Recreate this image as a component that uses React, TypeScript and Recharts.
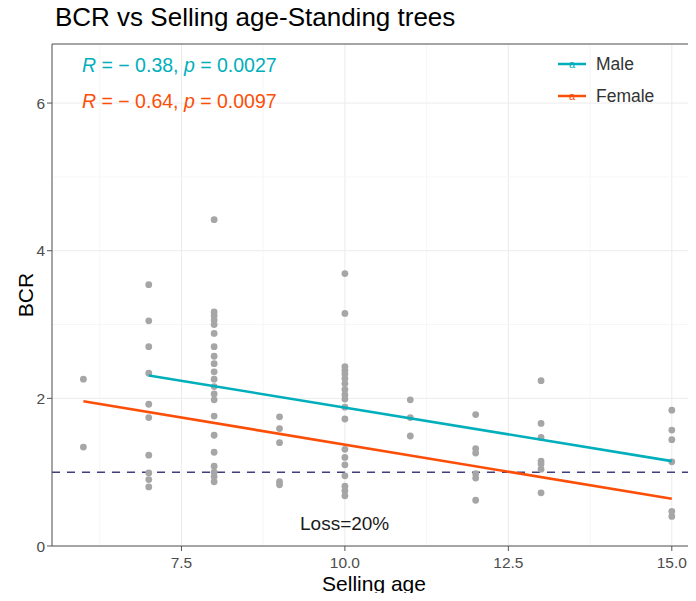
import React from 'react';
import { ScatterChart, Scatter, XAxis, YAxis, CartesianGrid, ReferenceLine, Label } from 'recharts';

// BCR readings grouped by selling age (years)
const ages = [6, 7, 8, 9, 10, 11, 12, 13, 15];
const bcrByAge = [
  [2.26, 1.34],
  [3.54, 3.05, 2.7, 2.34, 1.92, 1.74, 1.23, 0.99, 0.9, 0.8],
  [4.42, 3.17, 3.12, 3.06, 3.0, 2.88, 2.7, 2.57, 2.47, 2.36, 2.26, 2.16, 2.06, 1.98, 1.76, 1.5, 1.27, 1.08, 1.0, 0.94, 0.87],
  [1.75, 1.59, 1.4, 0.87, 0.83],
  [3.69, 3.15, 2.43, 2.38, 2.33, 2.27, 2.2, 2.12, 2.05, 1.99, 1.88, 1.72, 1.31, 1.2, 1.1, 0.95, 0.81, 0.75, 0.68],
  [1.98, 1.74, 1.49],
  [1.78, 1.32, 1.26, 0.98, 0.92, 0.62],
  [2.24, 1.66, 1.47, 1.15, 1.11, 1.04, 0.72],
  [1.84, 1.57, 1.44, 1.14, 0.47, 0.4],
];

// fitted lines (end points)
const maleFitAges = [7, 15];
const maleFitBcr = [2.31, 1.15];
const femaleFitAges = [6, 15];
const femaleFitBcr = [1.96, 0.64];

const xTicks = [7.5, 10, 12.5, 15];
const xMinor = [6.25, 8.75, 11.25, 13.75];
const yTicks = [0, 2, 4, 6];
const yMinor = [1, 3, 5];
const xDomain = [5.52, 15.37];
const yDomain = [0, 6.8];
const lossBcr = 1;

const MALE = '#00AFBB';
const FEMALE = '#FC4E07';
const FONT = '"Liberation Sans", Arial, sans-serif';

const points = ages.flatMap((age, i) => bcrByAge[i].map((bcr) => ({ age, bcr })));
const maleFit = maleFitAges.map((age, i) => ({ age, bcr: maleFitBcr[i] }));
const femaleFit = femaleFitAges.map((age, i) => ({ age, bcr: femaleFitBcr[i] }));

const noDot = () => <g />;
const greyDot = (p: any) => <circle cx={p.cx} cy={p.cy} r={3.4} fill="#a6a6a6" />;

const LegendKey = ({ color }: { color: string }) => (
  <svg width={30} height={18} style={{ display: 'block' }}>
    <line x1={1} y1={9} x2={29} y2={9} stroke={color} strokeWidth={2.5} />
    <text x={15} y={13} fontSize={11} fill={color} textAnchor="middle" fontFamily={FONT}>a</text>
  </svg>
);

const App: React.FC = () => {
  return (
    <div style={{ position: 'relative', width: 696, height: 601, margin: -8, background: '#fff', fontFamily: FONT, overflow: 'hidden' }}>
      <div style={{ position: 'absolute', left: 55, top: 2, fontSize: 26, color: '#000' }}>
        BCR vs Selling age-Standing trees
      </div>
      <ScatterChart width={696} height={601} margin={{ top: 44, right: 0, bottom: 0, left: 0 }}>
        <CartesianGrid stroke="#ebebeb" strokeWidth={1} />
        {xMinor.map((v) => (
          <ReferenceLine key={'xm' + v} x={v} stroke="#f4f4f4" strokeWidth={0.8} />
        ))}
        {yMinor.map((v) => (
          <ReferenceLine key={'ym' + v} y={v} stroke="#f4f4f4" strokeWidth={0.8} />
        ))}
        <XAxis
          type="number"
          dataKey="age"
          domain={xDomain}
          ticks={xTicks}
          tickFormatter={(v: number) => v.toFixed(1)}
          allowDataOverflow
          height={55}
          stroke="#555"
          tickSize={5}
          tickMargin={6}
          tick={{ fill: '#4d4d4d', fontSize: 15.5, fontFamily: FONT }}
        >
          <Label value="Selling age" position="insideBottom" offset={10} style={{ fill: '#000', fontSize: 21, fontFamily: FONT }} />
        </XAxis>
        <YAxis
          type="number"
          dataKey="bcr"
          domain={yDomain}
          ticks={yTicks}
          allowDataOverflow
          width={52}
          stroke="#555"
          tickSize={5}
          tick={{ fill: '#4d4d4d', fontSize: 15.5, fontFamily: FONT }}
        >
          <Label value="BCR" angle={-90} position="insideLeft" offset={26} style={{ fill: '#000', fontSize: 21, fontFamily: FONT, textAnchor: 'middle' }} />
        </YAxis>
        <ReferenceLine y={yDomain[1]} stroke="#555" strokeWidth={1} />
        <Scatter data={points} shape={greyDot} isAnimationActive={false} />
        <ReferenceLine y={lossBcr} stroke="#3f3f80" strokeWidth={1.5} strokeDasharray="8 7" />
        <Scatter data={maleFit} shape={noDot} line={{ stroke: MALE, strokeWidth: 2.6 }} isAnimationActive={false} />
        <Scatter data={femaleFit} shape={noDot} line={{ stroke: FEMALE, strokeWidth: 2.6 }} isAnimationActive={false} />
      </ScatterChart>

      <div style={{ position: 'absolute', left: 82, top: 54, fontSize: 19.5, color: MALE, whiteSpace: 'pre' }}>
        <i>R</i> = − 0.38, <i>p</i> = 0.0027
      </div>
      <div style={{ position: 'absolute', left: 82, top: 90, fontSize: 19.5, color: FEMALE, whiteSpace: 'pre' }}>
        <i>R</i> = − 0.64, <i>p</i> = 0.0097
      </div>

      <div style={{ position: 'absolute', left: 300, top: 513, fontSize: 19, color: '#1a1a1a' }}>Loss=20%</div>

      <div style={{ position: 'absolute', left: 557, top: 54, fontSize: 17.5, color: '#333' }}>
        <div style={{ display: 'flex', alignItems: 'center', height: 20 }}>
          <LegendKey color={MALE} />
          <span style={{ marginLeft: 9 }}>Male</span>
        </div>
        <div style={{ display: 'flex', alignItems: 'center', height: 20, marginTop: 12 }}>
          <LegendKey color={FEMALE} />
          <span style={{ marginLeft: 9 }}>Female</span>
        </div>
      </div>
    </div>
  );
};

export default App;
